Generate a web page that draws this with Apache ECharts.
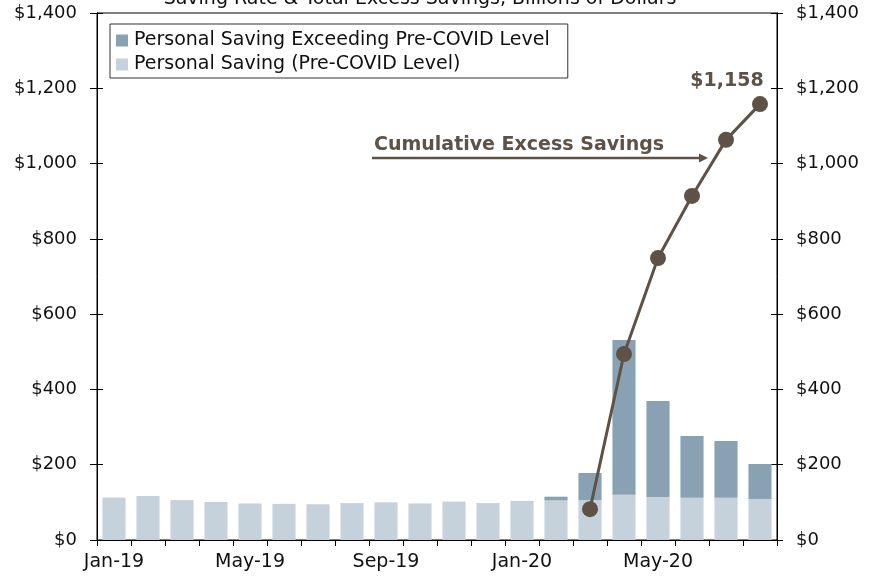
<!DOCTYPE html>
<html>
<head>
<meta charset="utf-8">
<script src="https://cdn.jsdelivr.net/npm/echarts@6/dist/echarts.min.js"></script>
<style>html,body{margin:0;padding:0;background:#fff;}#c{width:879px;height:577px;}</style>
</head>
<body>
<div id="c"></div>
<script>
const categories = ['Jan-19','Feb-19','Mar-19','Apr-19','May-19','Jun-19','Jul-19','Aug-19','Sep-19','Oct-19','Nov-19','Dec-19','Jan-20','Feb-20','Mar-20','Apr-20','May-20','Jun-20','Jul-20','Aug-20'];
const preCovidSaving = [113,117,106,101,97,96,95,98,100,97,102,98,104,105,106,120,114,112,112,109];
const excessSaving = [0,0,0,0,0,0,0,0,0,0,0,0,0,10,72,411,255,164,151,93];
const cumulativeExcess = [null,null,null,null,null,null,null,null,null,null,null,null,null,null,82,494,749,914,1063,1158];
const yTicks = [0,200,400,600,800,1000,1200,1400];

const FONT = 'DejaVu Sans';
const BROWN = '#5e5145';
const fmt = v => '$' + v.toLocaleString('en-US');

const chart = echarts.init(document.getElementById('c'));
const yBase = {
  type: 'value', min: yTicks[0], max: yTicks[yTicks.length-1], interval: yTicks[1]-yTicks[0],
  splitLine: {show: false},
  axisLine: {show: true, lineStyle: {color: '#000', width: 1}}
};
chart.setOption({
  animation: false,
  textStyle: {fontFamily: FONT},
  grid: {left: 97, right: 102, top: 13, bottom: 37, show: true, borderColor: '#000', borderWidth: 1, backgroundColor: 'transparent'},
  legend: {
    orient: 'vertical', left: 110, top: 24,
    data: ['Personal Saving Exceeding Pre-COVID Level', 'Personal Saving (Pre-COVID Level)'],
    backgroundColor: '#fff', borderColor: '#333', borderWidth: 1,
    padding: [7, 18, 4, 6], itemGap: 5, itemWidth: 12, itemHeight: 12, icon: 'rect',
    textStyle: {fontFamily: FONT, fontSize: 19, color: '#111', padding: [0,0,0,1]}
  },
  xAxis: {
    type: 'category', data: categories,
    axisLine: {lineStyle: {color: '#000', width: 1}},
    axisTick: {show: true, interval: 0, length: 6, alignWithLabel: false, lineStyle: {color: '#000'}},
    axisLabel: {interval: 3, fontFamily: FONT, fontSize: 19, color: '#111', margin: 13}
  },
  yAxis: [
    Object.assign({}, yBase, {position: 'left', axisTick: {show: true, length: 7, lineStyle: {color: '#000'}},
      axisLabel: {formatter: fmt, fontFamily: FONT, fontSize: 18, color: '#111', margin: 20}}),
    Object.assign({}, yBase, {position: 'right', axisTick: {show: true, length: 6, lineStyle: {color: '#000'}},
      axisLabel: {formatter: fmt, fontFamily: FONT, fontSize: 18, color: '#111', margin: 19}}),
    Object.assign({}, yBase, {position: 'left', axisTick: {show: true, inside: true, length: 6, lineStyle: {color: '#000'}}, axisLabel: {show: false}}),
    Object.assign({}, yBase, {position: 'right', axisTick: {show: true, inside: true, length: 6, lineStyle: {color: '#000'}}, axisLabel: {show: false}})
  ],
  series: [
    {name: 'Personal Saving (Pre-COVID Level)', type: 'bar', stack: 's', data: preCovidSaving,
     barCategoryGap: '32%', itemStyle: {color: '#c5d2db'}},
    {name: 'Personal Saving Exceeding Pre-COVID Level', type: 'bar', stack: 's', data: excessSaving,
     barCategoryGap: '32%', itemStyle: {color: '#89a2b3'}},
    {name: 'Cumulative Excess Savings', type: 'line', data: cumulativeExcess, yAxisIndex: 1,
     symbol: 'circle', symbolSize: 16, lineStyle: {color: BROWN, width: 3}, itemStyle: {color: BROWN},
     label: {show: true, position: 'top', distance: 6, offset: [-33, 0], fontFamily: FONT, fontSize: 19, fontWeight: 'bold', color: BROWN,
       formatter: p => p.dataIndex === cumulativeExcess.length - 1 ? fmt(p.value) : ''},
     z: 5}
  ],
  graphic: [
    {type: 'text', x: 420, y: 9, style: {text: 'Saving Rate & Total Excess Savings, Billions of Dollars', font: '19px "DejaVu Sans"', fill: '#111', textAlign: 'center', textVerticalAlign: 'bottom'}},
    {type: 'text', x: 374, y: 145, style: {text: 'Cumulative Excess Savings', font: 'bold 19px "DejaVu Sans"', fill: BROWN, textVerticalAlign: 'middle'}},
    {type: 'line', shape: {x1: 372, y1: 158, x2: 700, y2: 158}, style: {stroke: BROWN, lineWidth: 2.5}},
    {type: 'polygon', shape: {points: [[699,153.5],[708,158],[699,162.5]]}, style: {fill: BROWN}}
  ]
});
</script>
</body>
</html>
